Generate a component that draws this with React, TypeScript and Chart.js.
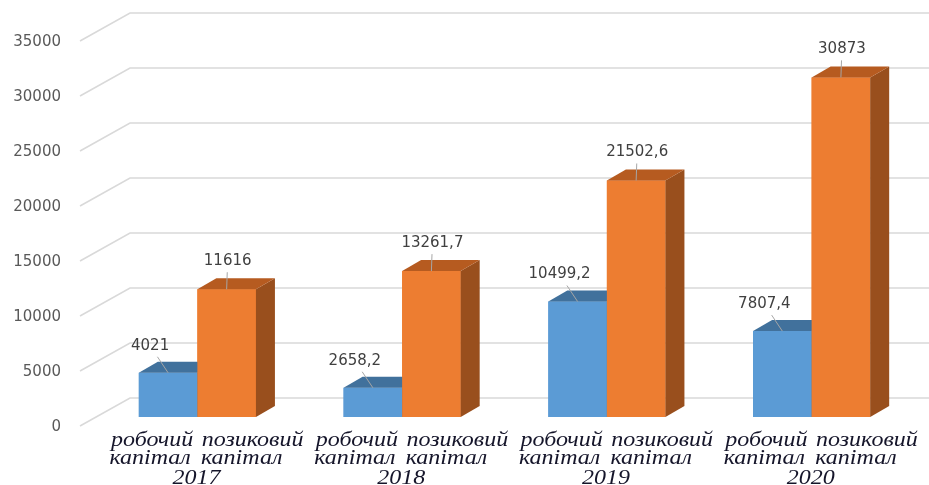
import { useEffect, useRef } from "react";
import { Chart, registerables } from "chart.js";

Chart.register(...registerables);

// ---- data ----
const years = ["2017", "2018", "2019", "2020"];
const seriesNames = ["робочий капітал", "позиковий капітал"];
const workingCapital = [4021, 2658.2, 10499.2, 7807.4];
const loanCapital = [11616, 13261.7, 21502.6, 30873];
const subLabelLines = [
  ["робочий", "капітал"],
  ["позиковий", "капітал"],
];
const yMin = 0;
const yMax = 35000;
const yStep = 5000;

// ---- style ----
const frontColors = ["#5b9bd5", "#ed7d31"];
const topColors = ["#41719c", "#b65b20"];
const sideColors = ["#3d6a94", "#994f1d"];
const DX = 19;
const DY = 11;

const fmt = (v: number) => String(v).replace(".", ",");

const gridPlugin = {
  id: "backWall",
  beforeDatasetsDraw(chart: any) {
    const ctx = chart.ctx;
    const ys = chart.scales.y;
    const left = chart.chartArea.left;
    ctx.save();
    ctx.strokeStyle = "#d9d9d9";
    ctx.lineWidth = 1.6;
    ys.ticks.forEach((t: any) => {
      const y = ys.getPixelForValue(t.value);
      ctx.beginPath();
      ctx.moveTo(left - 15, y + 9);
      ctx.lineTo(left + 35, y - 19);
      ctx.lineTo(chart.width, y - 19);
      ctx.stroke();
    });
    ctx.restore();
  },
};

const barsPlugin = {
  id: "bars3d",
  afterDatasetsDraw(chart: any) {
    const ctx = chart.ctx;
    const n = chart.data.labels.length;
    ctx.save();
    for (let j = 0; j < n; j++) {
      for (let i = 0; i < chart.data.datasets.length; i++) {
        const el = chart.getDatasetMeta(i).data[j];
        const { x, y, base, width } = el.getProps(["x", "y", "base", "width"], true);
        const x1 = x - width / 2;
        const x2 = x + width / 2;
        el.draw(ctx);
        // side
        ctx.fillStyle = sideColors[i];
        ctx.beginPath();
        ctx.moveTo(x2, y);
        ctx.lineTo(x2 + DX, y - DY);
        ctx.lineTo(x2 + DX, base - DY);
        ctx.lineTo(x2, base);
        ctx.closePath();
        ctx.fill();
        // top
        ctx.fillStyle = topColors[i];
        ctx.beginPath();
        ctx.moveTo(x1, y);
        ctx.lineTo(x2, y);
        ctx.lineTo(x2 + DX, y - DY);
        ctx.lineTo(x1 + DX, y - DY);
        ctx.closePath();
        ctx.fill();
      }
    }
    ctx.restore();
  },
};

const labelOffsets = [
  { dx: -18, dy: -27 },
  { dx: 1, dy: -28 },
];

const labelsPlugin = {
  id: "labels",
  afterDraw(chart: any) {
    const ctx = chart.ctx;
    const bottom = chart.chartArea.bottom;
    ctx.save();
    // data labels
    ctx.font = "15px 'DejaVu Sans'";
    ctx.textAlign = "center";
    ctx.textBaseline = "middle";
    chart.data.datasets.forEach((ds: any, i: number) => {
      chart.getDatasetMeta(i).data.forEach((el: any, j: number) => {
        const { x, y } = el.getProps(["x", "y"], true);
        const lx = x + labelOffsets[i].dx;
        const ly = y + labelOffsets[i].dy;
        const t = 11 / (y - ly);
        ctx.strokeStyle = "#a6a6a6";
        ctx.lineWidth = 1;
        ctx.beginPath();
        ctx.moveTo(lx + t * (x - lx), ly + 11);
        ctx.lineTo(x, y);
        ctx.stroke();
        ctx.fillStyle = "#404040";
        ctx.fillText(fmt(ds.data[j]), lx, ly);
      });
    });
    // category labels
    const sx = 1.2;
    ctx.font = "italic 20px 'Liberation Serif'";
    ctx.fillStyle = "#15152a";
    const lineOff = [
      [-16, -18],
      [26, 15],
    ];
    const xs = chart.scales.x;
    years.forEach((yr, j) => {
      chart.data.datasets.forEach((_ds: any, i: number) => {
        const el = chart.getDatasetMeta(i).data[j];
        subLabelLines[i].forEach((line, k) => {
          const cx = el.x + lineOff[i][k];
          const cy = bottom + 24 + k * 18;
          ctx.save();
          ctx.scale(sx, 1);
          ctx.fillText(line, cx / sx, cy);
          ctx.restore();
        });
      });
      const cx = xs.getPixelForValue(j) - 1;
      ctx.save();
      ctx.scale(sx, 1);
      ctx.fillText(yr, cx / sx, bottom + 62);
      ctx.restore();
    });
    ctx.restore();
  },
};

export default function App() {
  const ref = useRef<HTMLCanvasElement>(null);
  useEffect(() => {
    if (!ref.current) return;
    const chart = new Chart(ref.current, {
      type: "bar",
      data: {
        labels: years,
        datasets: [
          { label: seriesNames[0], data: workingCapital, backgroundColor: frontColors[0] },
          { label: seriesNames[1], data: loanCapital, backgroundColor: frontColors[1] },
        ],
      },
      options: {
        responsive: false,
        animation: false,
        layout: { padding: { left: 0, right: 15, top: 32, bottom: 68 } },
        datasets: { bar: { categoryPercentage: 0.572, barPercentage: 1.0 } },
        plugins: { legend: { display: false }, tooltip: { enabled: false } },
        scales: {
          x: { display: false },
          y: {
            min: yMin,
            max: yMax,
            grid: { display: false, drawTicks: false, tickLength: 0 },
            border: { display: false },
            afterFit: (s: any) => {
              s.width = 95;
              s.paddingTop = 0;
              s.paddingBottom = 0;
            },
            ticks: {
              stepSize: yStep,
              padding: 34,
              labelOffset: 10,
              color: "#595959",
              font: { family: "'DejaVu Sans'", size: 15 },
              callback: (v: any) => String(v),
            },
          },
        },
      },
      plugins: [gridPlugin, barsPlugin, labelsPlugin],
    });
    return () => chart.destroy();
  }, []);
  return (
    <div style={{ position: "absolute", left: 0, top: 0, width: 929, height: 485, background: "#fff" }}>
      <canvas ref={ref} width={929} height={485} style={{ display: "block" }} />
    </div>
  );
}
